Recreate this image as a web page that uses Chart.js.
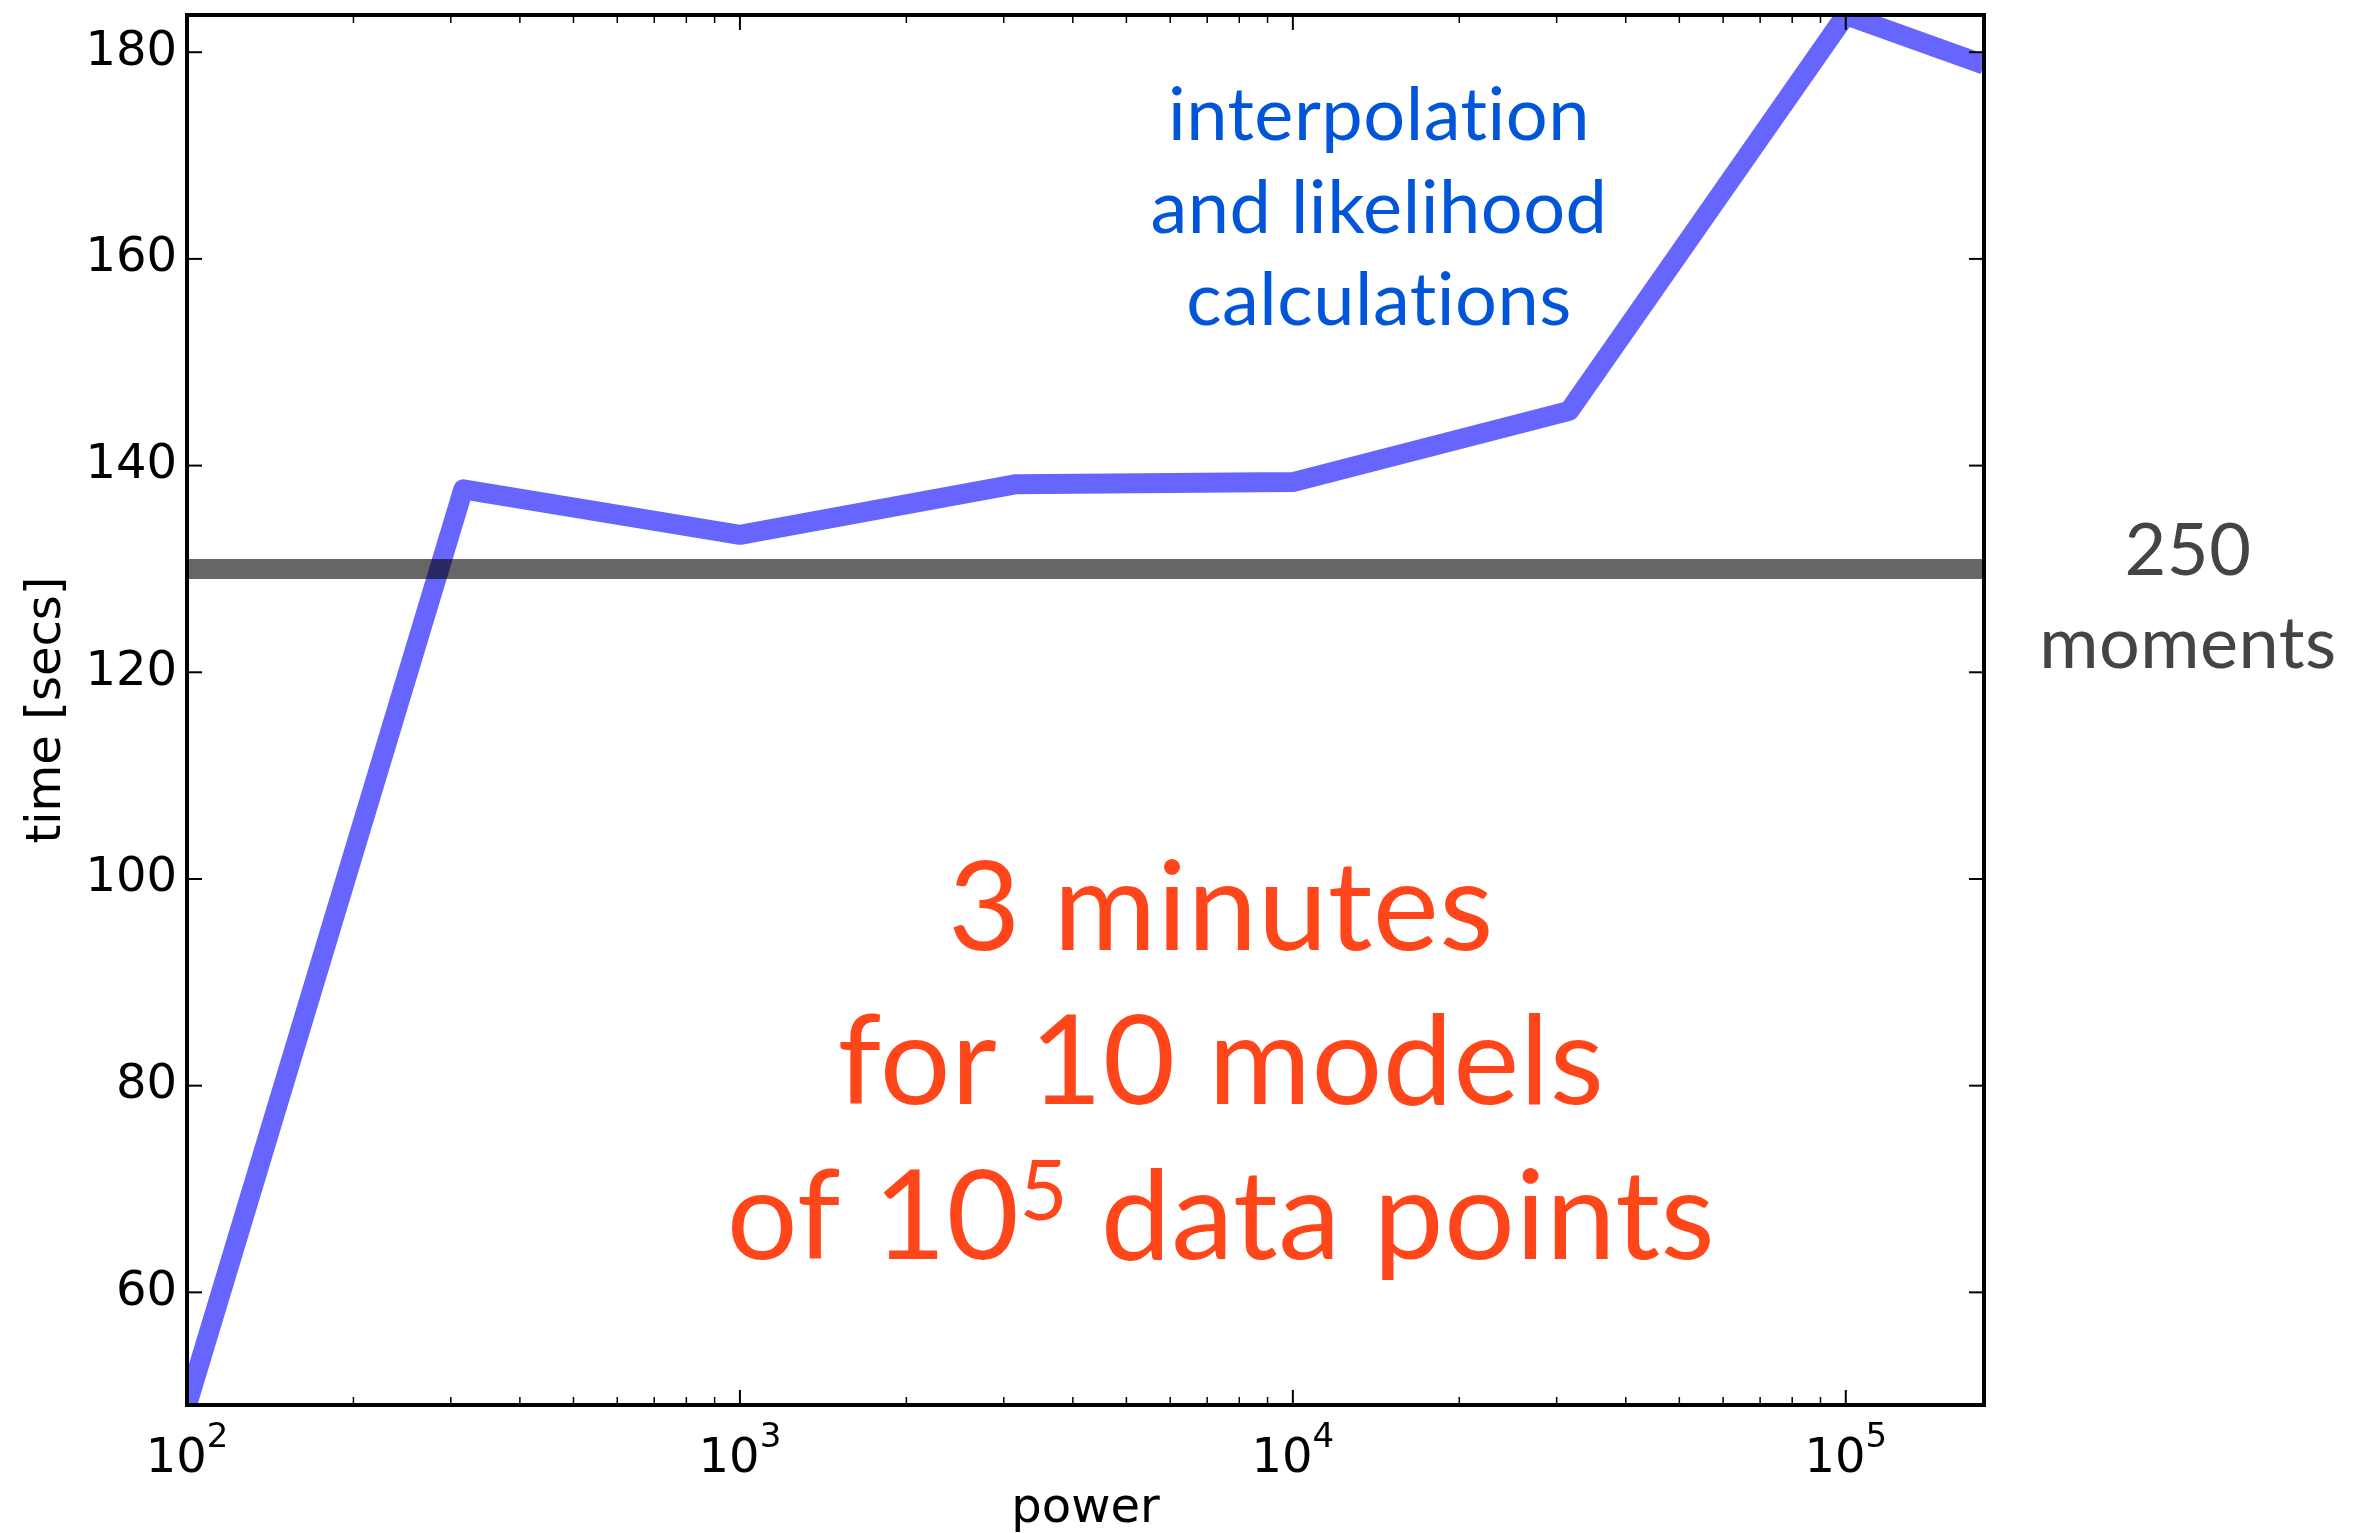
<!DOCTYPE html>
<html lang="en">
<head>
<meta charset="utf-8">
<title>time vs power</title>
<script src="https://cdn.jsdelivr.net/npm/chart.js@4.4.1/dist/chart.umd.min.js"></script>
<style>
  html, body { margin: 0; padding: 0; background: #fff; }
  #wrap { position: relative; width: 2364px; height: 1533px; }
</style>
</head>
<body>
<div id="wrap"><canvas id="chartTempo"></canvas></div>
<script>
// power (x) and time in seconds (y) of the interpolation + likelihood run
const powers = [100, 316, 1000, 3162, 10000, 31623, 100000, 177828];
const times = [49.1, 137.7, 133.3, 138.2, 138.4, 145.3, 183.6, 178.8];
// time of the 250 moments run, flat across powers
const momentsTime = 130;

// axes
const xRange = [100, 177828];
const yRange = [49.1, 183.6];
const yTicks = [60, 80, 100, 120, 140, 160, 180];
const xDecades = [100, 1000, 10000, 100000];
const xExponents = ['2', '3', '4', '5'];

const TICK_FONT = '"DejaVu Sans", sans-serif';
const NOTE_FONT = 'Lato, "Open Sans", sans-serif';

document.addEventListener('DOMContentLoaded', () => {
  const ctx = document.getElementById('chartTempo').getContext('2d');

  // minor ticks of the log axis: 2..9 times each decade
  const xMinor = [];
  xDecades.forEach((d) => {
    for (let k = 2; k <= 9; k++) {
      if (k * d < xRange[1]) xMinor.push(k * d);
    }
  });

  function line(c, x1, y1, x2, y2) {
    c.beginPath();
    c.moveTo(x1, y1);
    c.lineTo(x2, y2);
    c.stroke();
  }

  // inward ticks on all four sides and the black frame
  const frameTicks = {
    id: 'frameTicks',
    afterDatasetsDraw(chart) {
      const c = chart.ctx;
      const a = chart.chartArea;
      const x = chart.scales.x;
      const y = chart.scales.y;
      c.save();
      c.strokeStyle = '#000';
      c.lineWidth = 2;
      xDecades.forEach((v) => {
        const px = x.getPixelForValue(v);
        line(c, px, a.bottom, px, a.bottom - 15);
        line(c, px, a.top, px, a.top + 15);
      });
      c.lineWidth = 1.5;
      xMinor.forEach((v) => {
        const px = x.getPixelForValue(v);
        line(c, px, a.bottom, px, a.bottom - 8);
        line(c, px, a.top, px, a.top + 8);
      });
      c.lineWidth = 2;
      yTicks.forEach((v) => {
        const py = y.getPixelForValue(v);
        line(c, a.left, py, a.left + 15, py);
        line(c, a.right, py, a.right - 15, py);
      });
      c.lineWidth = 4;
      c.strokeRect(a.left, a.top, a.right - a.left, a.bottom - a.top);
      c.restore();
    }
  };

  // draws a centered line of text, with an optional superscript part
  function centeredLine(c, parts, cx, baseline) {
    let total = 0;
    parts.forEach((p) => {
      c.font = p.font;
      p.w = c.measureText(p.text).width;
      total += p.w;
    });
    let xx = cx - total / 2;
    c.textAlign = 'left';
    c.textBaseline = 'alphabetic';
    parts.forEach((p) => {
      c.font = p.font;
      c.fillText(p.text, xx, baseline - (p.rise || 0));
      xx += p.w;
    });
  }

  // x tick labels, axis titles and the notes
  const labels = {
    id: 'labels',
    afterDraw(chart) {
      const c = chart.ctx;
      const a = chart.chartArea;
      const x = chart.scales.x;
      c.save();
      c.fillStyle = '#000';
      xDecades.forEach((v, i) => {
        centeredLine(c, [
          { text: '10', font: '48px ' + TICK_FONT },
          { text: xExponents[i], font: '34px ' + TICK_FONT, rise: 25 }
        ], x.getPixelForValue(v), 1472);
      });

      c.font = '48px ' + TICK_FONT;
      c.textAlign = 'center';
      c.textBaseline = 'alphabetic';
      c.fillText('power', (a.left + a.right) / 2, 1522);
      c.save();
      c.translate(60, (a.top + a.bottom) / 2);
      c.rotate(-Math.PI / 2);
      c.fillText('time [secs]', 0, 0);
      c.restore();

      // small spacing keeps Lato from joining "ti"
      c.letterSpacing = '0.5px';

      // blue note
      c.fillStyle = '#0055d9';
      ['interpolation', 'and likelihood', 'calculations'].forEach((t, i) => {
        centeredLine(c, [{ text: t, font: '74px ' + NOTE_FONT }], 1379, 140 + i * 92.5);
      });

      // moments note, right of the frame
      c.fillStyle = '#444444';
      ['250', 'moments'].forEach((t, i) => {
        centeredLine(c, [{ text: t, font: '72px ' + NOTE_FONT }], 2188, 575 + i * 93);
      });

      // red note
      c.fillStyle = '#ff451a';
      const big = '125px ' + NOTE_FONT;
      centeredLine(c, [{ text: '3 minutes', font: big }], 1221, 950);
      centeredLine(c, [{ text: 'for 10 models', font: big }], 1221, 1104);
      centeredLine(c, [
        { text: 'of 10', font: big },
        { text: '5', font: '83px ' + NOTE_FONT, rise: 39 },
        { text: ' data points', font: big }
      ], 1221, 1259);
      c.restore();
    }
  };

  new Chart(ctx, {
    type: 'line',
    data: {
      datasets: [
        {
          label: '250 moments',
          data: [{ x: xRange[0], y: momentsTime }, { x: xRange[1], y: momentsTime }],
          borderColor: 'rgba(0,0,0,0.6)',
          borderWidth: 20,
          borderCapStyle: 'butt',
          pointRadius: 0,
          clip: 0,
          order: 0
        },
        {
          label: 'interpolation and likelihood',
          data: powers.map((p, i) => ({ x: p, y: times[i] })),
          borderColor: 'rgba(0,0,255,0.6)',
          borderWidth: 20,
          borderJoinStyle: 'round',
          borderCapStyle: 'butt',
          pointRadius: 0,
          tension: 0,
          clip: 0,
          order: 1
        }
      ]
    },
    options: {
      responsive: true,
      maintainAspectRatio: false,
      animation: false,
      events: [],
      layout: { padding: { top: 15, right: 380, left: 0, bottom: 0 } },
      plugins: {
        legend: { display: false },
        tooltip: { enabled: false }
      },
      scales: {
        x: {
          type: 'logarithmic',
          min: xRange[0],
          max: xRange[1],
          grid: { display: false, drawTicks: false },
          border: { display: false },
          ticks: { display: false },
          afterFit: (s) => {
            s.height = 128;
            s.paddingLeft = 0;
            s.paddingRight = 0;
          }
        },
        y: {
          type: 'linear',
          min: yRange[0],
          max: yRange[1],
          grid: { display: false, drawTicks: false },
          border: { display: false },
          ticks: {
            color: '#000',
            padding: 10,
            font: { family: TICK_FONT, size: 48 },
            callback: (v) => String(v)
          },
          afterBuildTicks: (s) => {
            s.ticks = yTicks.map((v) => ({ value: v }));
          },
          afterFit: (s) => {
            s.width = 187;
            s.paddingTop = 0;
            s.paddingBottom = 0;
          }
        }
      }
    },
    plugins: [frameTicks, labels]
  });
});
</script>
</body>
</html>
